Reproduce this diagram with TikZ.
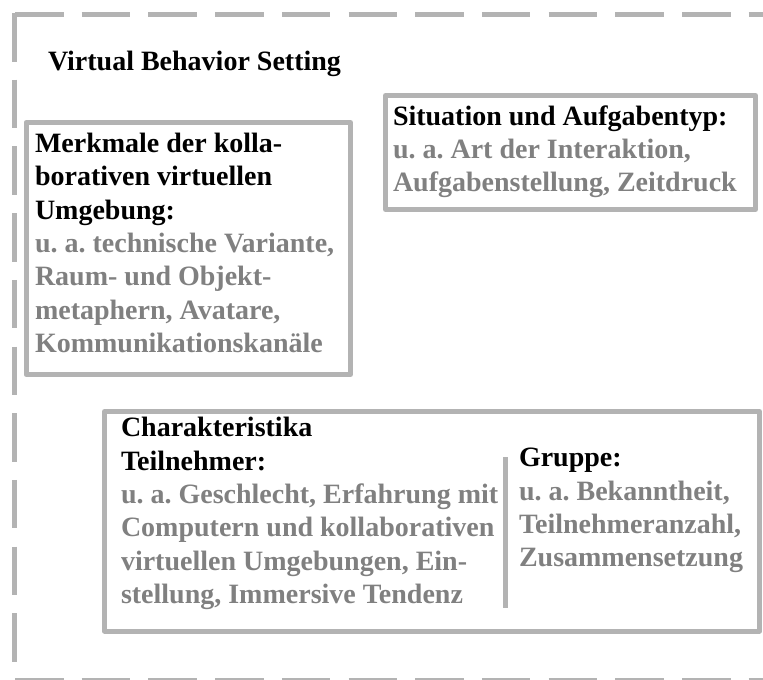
\documentclass[tikz,border=0pt]{standalone}
\usepackage{fontspec}
\setmainfont{Liberation Serif}
\frenchspacing
\definecolor{framegray}{RGB}{179,179,179}
\definecolor{textgray}{RGB}{128,128,128}
\newcommand\textlines[1]{\parbox[t]{600pt}{\fontsize{28}{33.4}\selectfont\bfseries\frenchspacing\raggedright #1}}
\tikzset{
  box/.style={draw=framegray, line width=5pt, line join=round, rectangle,
    inner sep=0pt, outer sep=0pt, anchor=north west},
  frameline/.style={draw=framegray, line width=5.5pt, dash pattern=on 48.5pt off 18.2pt},
  divider/.style={draw=framegray, line width=5pt},
  txt/.style={anchor=base west, inner sep=0pt, outer sep=0pt,
    font=\fontsize{28}{33.4}\selectfont\bfseries},
}
\begin{document}
\begin{tikzpicture}[x=1pt,y=-1pt]
\useasboundingbox (0,0) rectangle (763,680);
% outer dashed frame
\coordinate (topstart) at (15,14.5);
\coordinate (topend) at (775,14.5);
\coordinate (leftstart) at (14.5,13);
\coordinate (leftend) at (14.5,680.5);
\coordinate (botstart) at (15,680.5);
\coordinate (botend) at (775,680.5);
\draw[frameline] (topstart) -- (topend);
\draw[frameline] (leftstart) -- (leftend);
\draw[frameline] (botstart) -- (botend);
% title
\node[txt] (title) at (48,70) {Virtual Behavior Setting};
% boxes
\node[box, minimum width=324.5pt, minimum height=252pt] (b1) at (26,122.5) {};
\node[box, minimum width=370pt, minimum height=114pt] (b2) at (385.5,95.5) {};
\node[box, minimum width=655pt, minimum height=219.5pt] (b3) at (104.5,411.5) {};
\coordinate (dtop) at (505.5,457);
\coordinate (dbot) at (505.5,608);
\draw[divider] (dtop) -- (dbot);
% texts
\node[txt] (t1) at (35,152.3) {\textlines{Merkmale der kolla-\\borativen virtuellen\\Umgebung:\\ \color{textgray}u. a. technische Variante,\\Raum- und Objekt-\\metaphern, Avatare,\\Kommunikationskanäle}};
\node[txt] (t2) at (393,125) {\textlines{Situation und Aufgabentyp:\\ \color{textgray}u. a. Art der Interaktion,\\Aufgabenstellung, Zeitdruck}};
\node[txt] (t3) at (121,436.7) {\textlines{Charakteristika\\Teilnehmer:\\ \color{textgray}u. a. Geschlecht, Erfahrung mit\\Computern und kollaborativen\\virtuellen Umgebungen, Ein-\\stellung, Immersive Tendenz}};
\node[txt] (t4) at (519,466.7) {\textlines{Gruppe:\\ \color{textgray}u. a. Bekanntheit,\\Teilnehmeranzahl,\\Zusammensetzung}};
\end{tikzpicture}
\end{document}
